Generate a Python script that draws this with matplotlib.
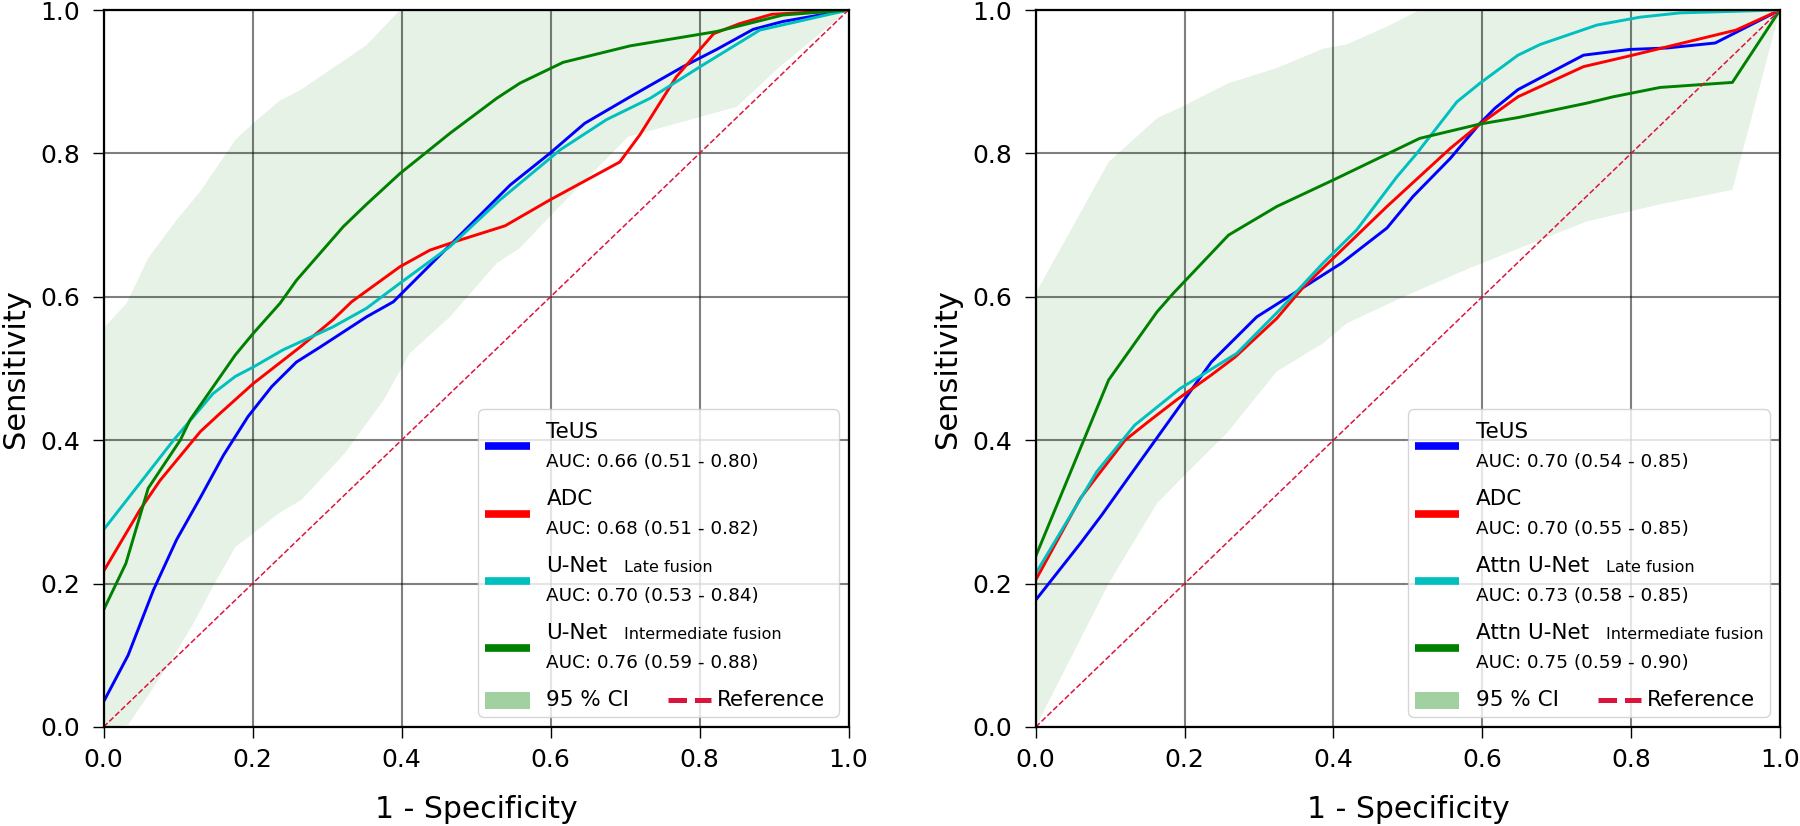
import numpy as np
import matplotlib
matplotlib.use("Agg")
from matplotlib import pyplot as plt
from matplotlib.lines import Line2D
from matplotlib.patches import Rectangle
from matplotlib.offsetbox import (AnchoredOffsetbox, DrawingArea, HPacker,
                                  TextArea, VPacker)

# ---- data ------------------------------------------------------------------
# left panel
l_teus_fpr = [0, 0.033, 0.067, 0.098, 0.130, 0.161, 0.194, 0.226, 0.259, 0.291, 0.353,
              0.389, 0.465, 0.546, 0.599, 0.646, 0.707, 0.778, 0.823, 0.872, 0.912, 1.0]
l_teus_tpr = [0.035, 0.100, 0.191, 0.261, 0.320, 0.379, 0.433, 0.475, 0.509, 0.530, 0.572,
              0.593, 0.672, 0.756, 0.800, 0.842, 0.879, 0.921, 0.945, 0.973, 0.984, 1.0]
l_adc_fpr = [0, 0.049, 0.076, 0.130, 0.156, 0.201, 0.264, 0.308, 0.333, 0.398, 0.438,
             0.472, 0.539, 0.599, 0.693, 0.720, 0.769, 0.819, 0.854, 0.897, 1.0]
l_adc_tpr = [0.217, 0.303, 0.344, 0.412, 0.437, 0.479, 0.530, 0.568, 0.593, 0.642, 0.665,
             0.677, 0.699, 0.735, 0.788, 0.826, 0.907, 0.967, 0.981, 0.994, 1.0]
l_late_fpr = [0, 0.094, 0.147, 0.177, 0.201, 0.241, 0.308, 0.353, 0.398, 0.465, 0.532,
              0.613, 0.675, 0.734, 0.801, 0.881, 1.0]
l_late_tpr = [0.275, 0.400, 0.465, 0.489, 0.502, 0.526, 0.558, 0.584, 0.619, 0.670, 0.735,
              0.805, 0.847, 0.877, 0.921, 0.972, 1.0]
l_inter_fpr = [0, 0.030, 0.060, 0.103, 0.116, 0.177, 0.201, 0.237, 0.259, 0.322, 0.353,
               0.398, 0.465, 0.528, 0.559, 0.617, 0.707, 0.823, 0.912, 1.0]
l_inter_tpr = [0.163, 0.228, 0.333, 0.400, 0.428, 0.519, 0.549, 0.591, 0.623, 0.698, 0.729,
               0.772, 0.828, 0.877, 0.898, 0.927, 0.950, 0.970, 0.993, 1.0]
l_ci_up_x = [0, 0.031, 0.060, 0.098, 0.130, 0.177, 0.201, 0.237, 0.264, 0.353, 0.398, 1.0]
l_ci_up_y = [0.556, 0.591, 0.654, 0.707, 0.747, 0.819, 0.842, 0.874, 0.888, 0.951, 1.0, 1.0]
l_ci_lo_x = [0, 0.033, 0.062, 0.094, 0.121, 0.147, 0.177, 0.201, 0.235, 0.266, 0.324,
             0.376, 0.411, 0.465, 0.528, 0.559, 0.599, 0.704, 0.850, 0.908, 1.0]
l_ci_lo_y = [0, 0.003, 0.047, 0.098, 0.145, 0.196, 0.251, 0.270, 0.298, 0.317, 0.382,
             0.456, 0.521, 0.572, 0.647, 0.668, 0.712, 0.823, 0.865, 0.921, 1.0]

# right panel
r_teus_fpr = [0, 0.060, 0.089, 0.122, 0.180, 0.236, 0.297, 0.364, 0.411, 0.472, 0.507,
              0.557, 0.597, 0.617, 0.648, 0.736, 0.798, 0.848, 0.913, 1.0]
r_teus_tpr = [0.177, 0.256, 0.296, 0.344, 0.428, 0.509, 0.572, 0.616, 0.647, 0.696, 0.740,
              0.793, 0.842, 0.863, 0.889, 0.937, 0.945, 0.947, 0.954, 1.0]
r_adc_fpr = [0, 0.060, 0.082, 0.120, 0.154, 0.189, 0.236, 0.268, 0.324, 0.360, 0.400,
             0.472, 0.557, 0.597, 0.648, 0.736, 0.798, 0.941, 1.0]
r_adc_tpr = [0.205, 0.319, 0.349, 0.400, 0.428, 0.456, 0.491, 0.516, 0.570, 0.614, 0.654,
             0.726, 0.807, 0.841, 0.879, 0.921, 0.936, 0.972, 1.0]
r_late_fpr = [0, 0.082, 0.133, 0.194, 0.270, 0.328, 0.386, 0.431, 0.485, 0.512, 0.566,
              0.597, 0.648, 0.678, 0.754, 0.812, 0.866, 1.0]
r_late_tpr = [0.214, 0.356, 0.421, 0.472, 0.521, 0.582, 0.647, 0.693, 0.767, 0.800, 0.872,
              0.898, 0.937, 0.952, 0.979, 0.990, 0.996, 1.0]
r_inter_fpr = [0, 0.098, 0.163, 0.185, 0.259, 0.324, 0.400, 0.472, 0.516, 0.597, 0.648,
               0.740, 0.776, 0.839, 0.936, 1.0]
r_inter_tpr = [0.238, 0.484, 0.579, 0.605, 0.686, 0.726, 0.763, 0.799, 0.821, 0.841, 0.850,
               0.870, 0.879, 0.892, 0.899, 1.0]
r_ci_up_x = [0, 0.098, 0.163, 0.198, 0.259, 0.324, 0.386, 0.418, 0.472, 0.516, 1.0]
r_ci_up_y = [0.605, 0.788, 0.849, 0.866, 0.898, 0.919, 0.946, 0.952, 0.977, 1.0, 1.0]
r_ci_lo_x = [0, 0.098, 0.163, 0.198, 0.257, 0.324, 0.386, 0.418, 0.494, 0.583, 0.740,
             0.839, 0.936, 1.0]
r_ci_lo_y = [0, 0.200, 0.312, 0.349, 0.410, 0.496, 0.535, 0.563, 0.600, 0.640, 0.705,
             0.729, 0.749, 1.0]

model_colors = ["blue", "red", "c", "green"]
l_names = ["TeUS", "ADC", "U-Net", "U-Net"]
r_names = ["TeUS", "ADC", "Attn U-Net", "Attn U-Net"]
subs = ["", "", "Late fusion", "Intermediate fusion"]
l_aucs = ["AUC: 0.66 (0.51 - 0.80)", "AUC: 0.68 (0.51 - 0.82)",
          "AUC: 0.70 (0.53 - 0.84)", "AUC: 0.76 (0.59 - 0.88)"]
r_aucs = ["AUC: 0.70 (0.54 - 0.85)", "AUC: 0.70 (0.55 - 0.85)",
          "AUC: 0.73 (0.58 - 0.85)", "AUC: 0.75 (0.59 - 0.90)"]

NAME_FS, SUB_FS, AUC_FS = 15.5, 11.5, 13.2


def add_legend(ax, names, aucs):
    rows = []
    for name, sub, auc, col in zip(names, subs, aucs, model_colors):
        da = DrawingArea(32, 10, 0, 0)
        da.add_artist(Line2D([0, 32], [5, 5], color=col, lw=5.5, solid_capstyle="butt"))
        first = [TextArea(name, textprops=dict(size=NAME_FS))]
        if sub:
            first.append(TextArea(sub, textprops=dict(size=SUB_FS)))
        line1 = HPacker(children=first, align="baseline", pad=0, sep=12)
        line2 = TextArea(auc, textprops=dict(size=AUC_FS))
        txt = VPacker(children=[line1, line2], align="left", pad=0, sep=8)
        rows.append(HPacker(children=[da, txt], align="center", pad=0, sep=12))

    patch_da = DrawingArea(32, 12, 0, 0)
    patch_da.add_artist(Rectangle((0, 0), 32, 12, color="green", alpha=0.37, lw=0))
    ci = HPacker(children=[patch_da, TextArea("95 % CI", textprops=dict(size=NAME_FS))],
                 align="center", pad=0, sep=12)
    ref_da = DrawingArea(31, 10, 0, 0)
    ref_da.add_artist(Line2D([0, 31], [5, 5], color="crimson", lw=3.6, ls="--",
                             dash_capstyle="butt"))
    ref = HPacker(children=[ref_da, TextArea("Reference", textprops=dict(size=NAME_FS)),
                            DrawingArea(1, 1, 0, 0)],
                  align="center", pad=0, sep=4)
    rows.append(HPacker(children=[ci, ref], align="center", pad=0, sep=28))

    box = VPacker(children=rows, align="left", pad=0, sep=13)
    outer = VPacker(children=[DrawingArea(1, 1, 0, 0), box], align="left", pad=0, sep=3)
    anc = AnchoredOffsetbox(loc="lower right", child=outer, pad=0.35, borderpad=0.5,
                            frameon=True, prop=dict(size=14))
    anc.patch.set_boxstyle("round,pad=0,rounding_size=0.3")
    anc.patch.set_facecolor("white")
    anc.patch.set_edgecolor("0.8")
    anc.patch.set_alpha(0.8)
    anc.patch.set_linewidth(1.0)
    anc.set_zorder(5)
    ax.add_artist(anc)


def draw_panel(ax, curves, ci_up, ci_lo, names, aucs):
    ci_x = np.r_[ci_up[0], ci_lo[0][::-1]]
    ci_y = np.r_[ci_up[1], ci_lo[1][::-1]]
    ax.fill(ci_x, ci_y, color="green", alpha=0.1, lw=0, zorder=1)
    for (fpr, tpr), col in zip(curves, model_colors):
        ax.plot(fpr, tpr, color=col, lw=2.1, zorder=2)
    ax.plot([0, 1], [0, 1], color="crimson", ls="--", lw=1.1, zorder=2)

    ax.set_xlim(0, 1)
    ax.set_ylim(0, 1)
    ticks = np.arange(0, 1.01, 0.2)
    ax.set_xticks(ticks)
    ax.set_yticks(ticks)
    ax.grid(True, color="k", alpha=0.5, lw=1.5)
    ax.tick_params(length=8, width=1.0, labelsize=18)
    ax.tick_params(axis="x", pad=7)
    ax.tick_params(axis="y", pad=9)
    for sp in ax.spines.values():
        sp.set_linewidth(1.6)
    ax.set_xlabel("1 - Specificity", fontsize=21.5, labelpad=17)
    ax.set_ylabel("Sensitivity", fontsize=22, labelpad=7)
    add_legend(ax, names, aucs)


fig = plt.figure(figsize=(18, 8.26), dpi=100)
axL = fig.add_axes([103.5 / 1800, 99 / 826, 745 / 1800, 717 / 826])
axR = fig.add_axes([1035.7 / 1800, 99 / 826, 744.3 / 1800, 717 / 826])

draw_panel(axL,
           [(l_teus_fpr, l_teus_tpr), (l_adc_fpr, l_adc_tpr),
            (l_late_fpr, l_late_tpr), (l_inter_fpr, l_inter_tpr)],
           (l_ci_up_x, l_ci_up_y), (l_ci_lo_x, l_ci_lo_y), l_names, l_aucs)
draw_panel(axR,
           [(r_teus_fpr, r_teus_tpr), (r_adc_fpr, r_adc_tpr),
            (r_late_fpr, r_late_tpr), (r_inter_fpr, r_inter_tpr)],
           (r_ci_up_x, r_ci_up_y), (r_ci_lo_x, r_ci_lo_y), r_names, r_aucs)

fig.savefig("out.png", dpi=100)
